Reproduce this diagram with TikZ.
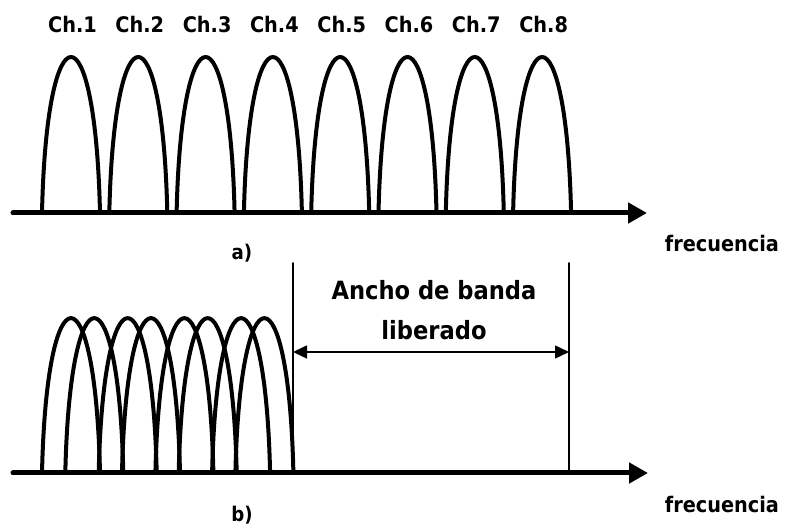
\documentclass[tikz,border=0pt]{standalone}
\usepackage{fontspec}
\setmainfont{DejaVu Sans Condensed}
\usetikzlibrary{arrows.meta}

\begin{document}
\begin{tikzpicture}[>=Stealth, line cap=round, line join=round,
  hump/.style={line width=0.08cm},
  eje/.style={line width=0.1cm, -{Triangle[length=0.38cm, width=0.4cm]}},
  cota/.style={line width=0.03cm},
  lbl/.style={font=\bfseries\fontsize{12.2}{14}\selectfont, inner sep=0pt}]

\useasboundingbox (0,0) rectangle (15.7,10.54);

% a) canales separados
\foreach \i in {1,...,8} {
  \pgfmathsetmacro\l{0.84+1.346*(\i-1)}
  \draw[hump] (\l,6.28) .. controls +(0.093,4.16) and +(-0.093,4.16) .. +(1.16,0);
  \node[lbl] (ch\i) at (\l+0.61,10.04) {Ch.\i};
}
\coordinate (ejeA0) at (0.26,6.28);
\coordinate (ejeA1) at (12.94,6.28);
\draw[eje] (ejeA0) -- (ejeA1);
\node[lbl] (frecA) at (14.44,5.66) {frecuencia};
\node[lbl, font=\bfseries\fontsize{11.5}{13}\selectfont] (capA) at (4.84,5.48) {a)};

% b) canales solapados
\foreach \k in {0,...,3} {
  \foreach \d in {0,0.466} {
    \pgfmathsetmacro\l{0.84+1.134*\k+\d}
    \draw[hump] (\l,1.08) .. controls +(0.093,4.13) and +(-0.093,4.13) .. +(1.16,0);
  }
}
\coordinate (ejeB0) at (0.26,1.08);
\coordinate (ejeB1) at (12.96,1.08);
\draw[eje] (ejeB0) -- (ejeB1);
\node[lbl] (frecB) at (14.44,0.44) {frecuencia};
\node[lbl, font=\bfseries\fontsize{11.5}{13}\selectfont] (capB) at (4.84,0.24) {b)};

% ancho de banda liberado
\coordinate (limI0) at (5.86,5.28);
\coordinate (limI1) at (5.86,1.08);
\coordinate (limD0) at (11.38,5.28);
\coordinate (limD1) at (11.38,1.08);
\draw[cota] (limI0) -- (limI1);
\draw[cota] (limD0) -- (limD1);
\coordinate (flechaI) at (5.86,3.50);
\coordinate (flechaD) at (11.38,3.50);
\draw[cota, {Triangle[length=0.28cm, width=0.26cm]}-{Triangle[length=0.28cm, width=0.26cm]}] (flechaI) -- (flechaD);
\node[lbl, align=center, font=\bfseries\fontsize{14.3}{22.7}\selectfont] (banda) at (8.68,4.34) {Ancho de banda\\liberado};

\end{tikzpicture}
\end{document}
